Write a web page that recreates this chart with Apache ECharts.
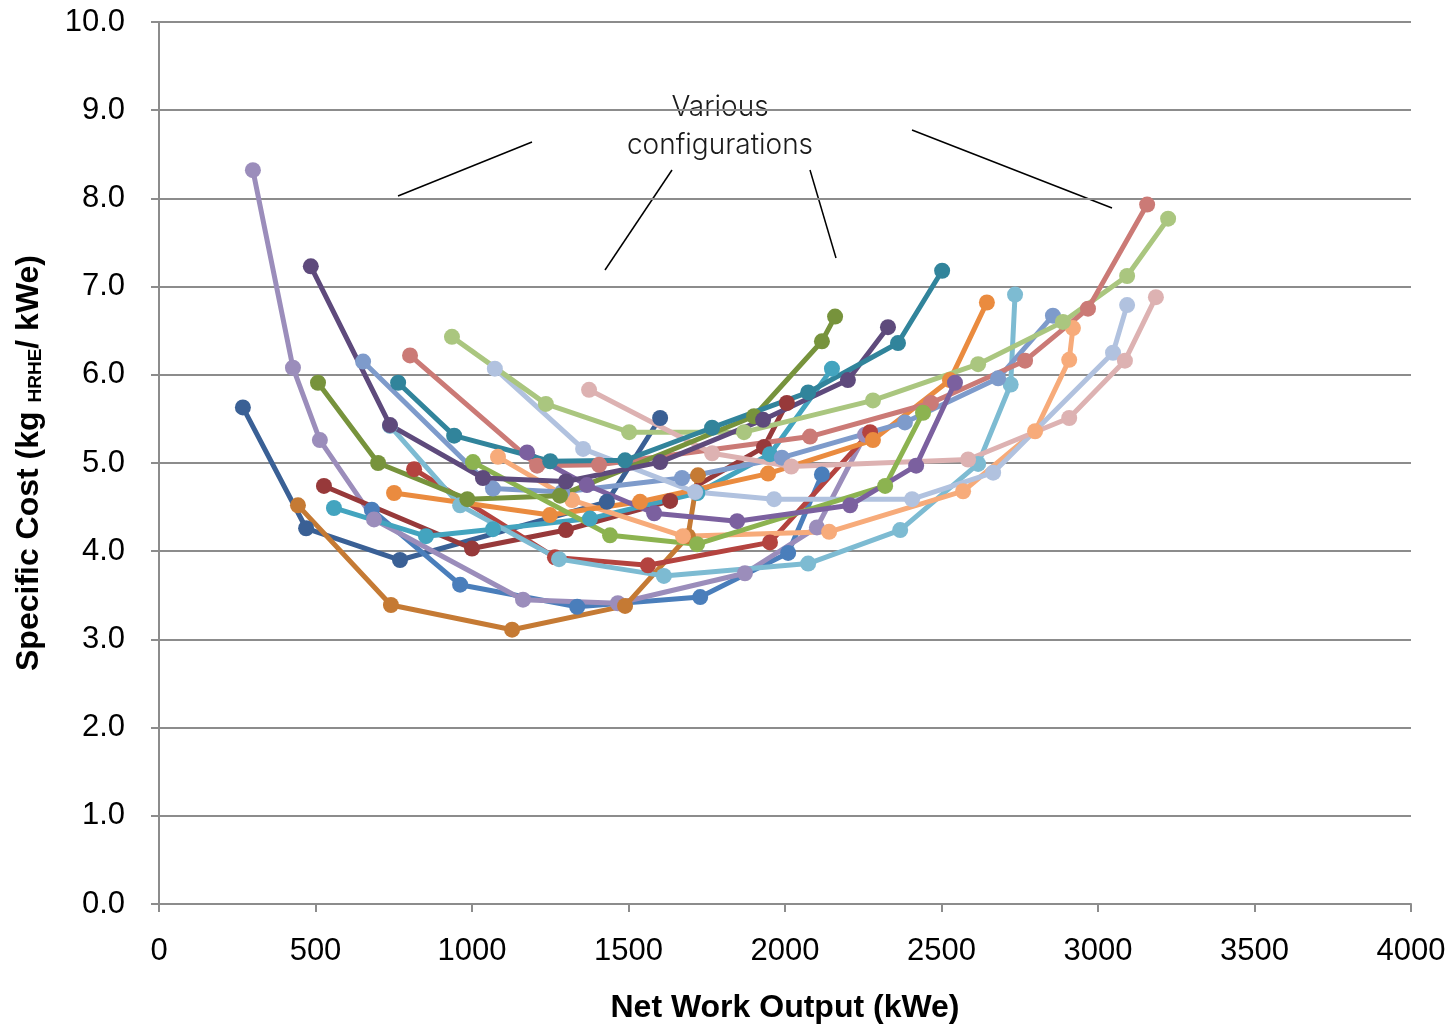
<!DOCTYPE html>
<html>
<head>
<meta charset="utf-8">
<script src="https://cdn.jsdelivr.net/npm/echarts@6/dist/echarts.min.js"></script>
<style>
html,body{margin:0;padding:0;background:#fff;}
#chart{width:1455px;height:1025px;}
</style>
</head>
<body>
<div id="chart"></div>
<script>
// Net work output (kWe) vs specific cost (kg HRHE / kWe), one array per configuration
const cfgDarkBlue   = [[268,5.63],[470,4.26],[770,3.90],[1431,4.56],[1601,5.51]];
const cfgBlue       = [[680,4.47],[962,3.62],[1336,3.37],[1729,3.48],[2010,3.98],[2118,4.87]];
const cfgLavender   = [[300,8.32],[428,6.08],[514,5.26],[687,4.36],[1163,3.45],[1466,3.41],[1872,3.75],[2102,4.27],[2256,5.32]];
const cfgBrown      = [[444,4.52],[741,3.39],[1128,3.11],[1489,3.38],[1690,4.17],[1722,4.86]];
const cfgDarkRed    = [[527,4.74],[1000,4.03],[1300,4.24],[1633,4.57],[1933,5.18],[2006,5.68]];
const cfgRed        = [[815,4.93],[1265,3.93],[1562,3.84],[1952,4.10],[2272,5.35]];
const cfgTeal       = [[559,4.49],[853,4.17],[1067,4.25],[1377,4.37],[1720,4.66],[1952,5.10],[2150,6.07]];
const cfgLightTeal  = [[738,5.42],[962,4.52],[1278,3.91],[1613,3.72],[2074,3.86],[2368,4.24],[2617,4.99],[2721,5.89],[2735,6.91]];
const cfgPeach      = [[1083,5.07],[1320,4.58],[1674,4.17],[2141,4.22],[2569,4.68],[2799,5.36],[2908,6.17],[2920,6.53]];
const cfgOrange     = [[751,4.66],[1249,4.41],[1537,4.56],[1946,4.88],[2281,5.26],[2527,5.94],[2645,6.82]];
const cfgSkyBlue    = [[652,6.15],[1067,4.71],[1288,4.67],[1671,4.83],[1990,5.06],[2383,5.46],[2681,5.96],[2856,6.67]];
const cfgPaleBlue   = [[1073,6.07],[1355,5.16],[1713,4.67],[1965,4.59],[2406,4.59],[2665,4.89],[3048,6.25],[3093,6.79]];
const cfgLightGreen = [[936,6.43],[1236,5.67],[1502,5.35],[1869,5.35],[2281,5.71],[2617,6.12],[2888,6.60],[3093,7.12],[3224,7.77]];
const cfgRose       = [[802,6.22],[1208,4.97],[1406,4.98],[2080,5.30],[2466,5.68],[2767,6.16],[2968,6.75],[3157,7.93]];
const cfgPink       = [[1374,5.83],[1767,5.11],[2020,4.96],[2585,5.04],[2908,5.51],[3086,6.16],[3185,6.88]];
const cfgOlive      = [[508,5.91],[700,5.00],[985,4.59],[1281,4.63],[1901,5.53],[2118,6.38],[2160,6.66]];
const cfgGreen      = [[1003,5.01],[1441,4.18],[1719,4.08],[2320,4.74],[2441,5.57]];
const cfgPurple     = [[1176,5.12],[1367,4.75],[1582,4.43],[1847,4.34],[2208,4.52],[2419,4.97],[2543,5.91]];
const cfgDarkPurple = [[485,7.23],[738,5.43],[1035,4.83],[1300,4.79],[1601,5.01],[1930,5.49],[2201,5.94],[2329,6.54]];
const cfgDarkTeal   = [[764,5.91],[943,5.31],[1250,5.02],[1489,5.03],[1767,5.40],[2074,5.80],[2361,6.36],[2502,7.18]];

const xTicks = [0, 500, 1000, 1500, 2000, 2500, 3000, 3500, 4000];
const yTicks = [0, 1, 2, 3, 4, 5, 6, 7, 8, 9, 10];

const configs = [
  [cfgDarkBlue,   '#3A6095'],
  [cfgBlue,       '#4A7EBB'],
  [cfgLavender,   '#9B8DBB'],
  [cfgBrown,      '#C57A34'],
  [cfgDarkRed,    '#97393A'],
  [cfgRed,        '#B4433F'],
  [cfgTeal,       '#43A4BF'],
  [cfgLightTeal,  '#7DBBD2'],
  [cfgPeach,      '#F7AB7A'],
  [cfgOrange,     '#EA8B3F'],
  [cfgSkyBlue,    '#7E9BCB'],
  [cfgPaleBlue,   '#B1C2DF'],
  [cfgLightGreen, '#AAC67F'],
  [cfgRose,       '#CB7A76'],
  [cfgPink,       '#DDB2B2'],
  [cfgOlive,      '#77933C'],
  [cfgGreen,      '#8CB350'],
  [cfgPurple,     '#7B609F'],
  [cfgDarkPurple, '#5E4A7C'],
  [cfgDarkTeal,   '#31849B']
];

const chart = echarts.init(document.getElementById('chart'), null, {renderer: 'canvas'});
const font = 'Liberation Sans, Arial, sans-serif';
const gridColor = '#8C8C8C';

const series = configs.map(([pts, color]) => ({
  type: 'line',
  data: pts,
  symbol: 'circle',
  symbolSize: 16,
  showSymbol: true,
  animation: false,
  lineStyle: {width: 5, color: color},
  itemStyle: {color: color},
  z: 3
}));

// callout lines and caption pointing at the curves
const ann = '#000';
const capFont = '300 28px Inter, sans-serif';
const graphic = [
  {type: 'text', x: 720, y: 108, style: {text: 'Various', align: 'center', verticalAlign: 'middle', font: capFont, fill: '#1a1a1a'}},
  {type: 'text', x: 720, y: 146, style: {text: 'configurations', align: 'center', verticalAlign: 'middle', font: capFont, fill: '#1a1a1a'}},
  {type: 'line', shape: {x1: 398, y1: 196, x2: 532, y2: 142}, style: {stroke: ann, lineWidth: 1.5}},
  {type: 'line', shape: {x1: 605, y1: 270, x2: 672, y2: 170}, style: {stroke: ann, lineWidth: 1.5}},
  {type: 'line', shape: {x1: 836, y1: 258, x2: 810, y2: 170}, style: {stroke: ann, lineWidth: 1.5}},
  {type: 'line', shape: {x1: 912, y1: 130, x2: 1112, y2: 208}, style: {stroke: ann, lineWidth: 1.5}}
];

chart.setOption({
  backgroundColor: '#ffffff',
  animation: false,
  grid: {left: 159, right: 44, top: 22, bottom: 121, containLabel: false, outerBoundsMode: 'none'},
  xAxis: {
    type: 'value',
    min: xTicks[0], max: xTicks[xTicks.length - 1], interval: 500,
    name: 'Net Work Output (kWe)',
    nameLocation: 'middle', nameGap: 88,
    nameTextStyle: {fontFamily: font, fontSize: 32, fontWeight: 'bold', color: '#000'},
    axisLine: {show: true, lineStyle: {color: gridColor, width: 2}},
    axisTick: {show: true, length: 8, lineStyle: {color: gridColor, width: 2}},
    axisLabel: {fontFamily: font, fontSize: 31, color: '#000', margin: 32, formatter: v => String(v)},
    splitLine: {show: false}
  },
  yAxis: {
    type: 'value',
    min: yTicks[0], max: yTicks[yTicks.length - 1], interval: 1,
    name: 'Specific Cost (kg {sub|HRHE}/ kWe)',
    nameLocation: 'middle', nameGap: 114, nameRotate: 90,
    nameTextStyle: {
      fontFamily: font, fontSize: 32, fontWeight: 'bold', color: '#000',
      rich: {sub: {fontFamily: font, fontSize: 19, fontWeight: 'bold', color: '#000', verticalAlign: 'bottom', padding: [12, 0, 0, 0]}}
    },
    axisLine: {show: true, lineStyle: {color: gridColor, width: 2}},
    axisTick: {show: true, length: 8, lineStyle: {color: gridColor, width: 2}},
    axisLabel: {fontFamily: font, fontSize: 31, color: '#000', margin: 34, formatter: v => v.toFixed(1)},
    splitLine: {show: true, lineStyle: {color: gridColor, width: 2}}
  },
  graphic: graphic,
  series: series
});
</script>
</body>
</html>
